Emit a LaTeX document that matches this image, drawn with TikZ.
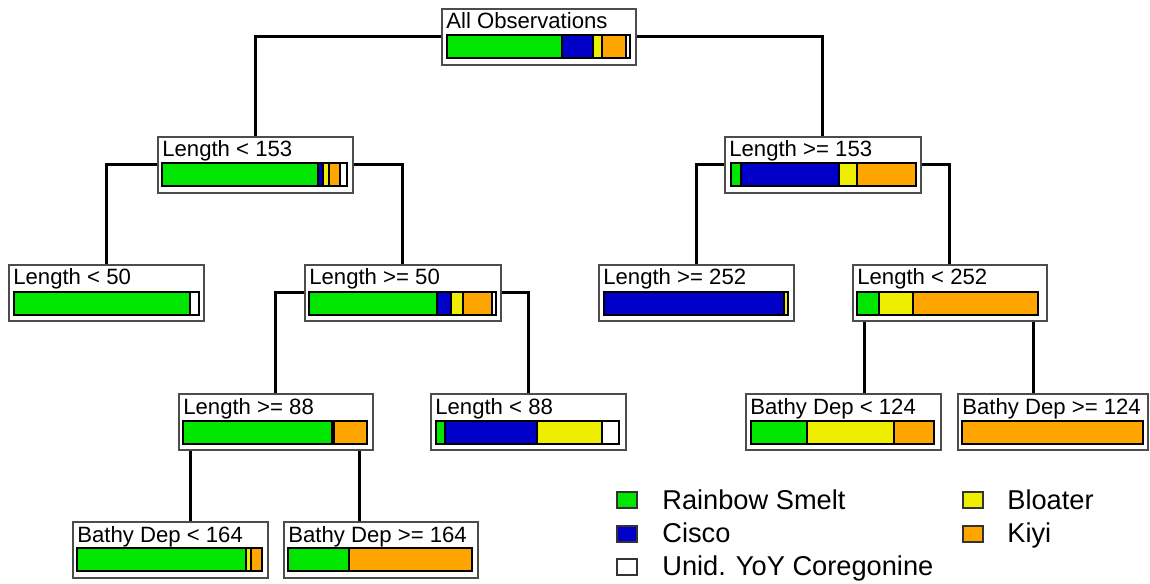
\documentclass[tikz,border=0pt]{standalone}
\usepackage{fontspec}
\setmainfont{Liberation Sans}
\usetikzlibrary{calc}
\pgfdeclarelayer{background}
\pgfsetlayers{background,main}
\definecolor{cgreen}{RGB}{0,230,0}
\definecolor{cblue}{RGB}{0,0,200}
\definecolor{cyellow}{RGB}{238,238,0}
\definecolor{corange}{RGB}{255,165,0}
\tikzset{
  tbox/.style={draw=black!70, fill=white, line width=0.9pt, inner sep=0pt,
    anchor=north west, minimum height=1.12cm},
  tlabel/.style={anchor=base west, inner sep=0pt, font=\fontsize{12.6}{15}\selectfont},
  segment/.style={draw=black, line width=0.7pt},
  conn/.style={draw=black, line width=1.6pt},
  legsq/.style={draw=black!80, line width=0.7pt, minimum width=0.4cm, minimum height=0.32cm, inner sep=0pt},
  legtext/.style={anchor=base west, inner sep=0pt, font=\fontsize{15.5}{18}\selectfont}
}
\newcommand\treebox[5]{%
  \node[tbox, minimum width=#4*0.02cm] (#1) at (#2,#3) {};
  \node[tlabel] (#1-label) at (#2+5,#3+21) {#5};}
\newcommand\seg[4]{\filldraw[segment, fill=#4] (#1,#3) rectangle (#2,#3+23);}
\begin{document}
\begin{tikzpicture}[x=0.02cm, y=-0.02cm]
\useasboundingbox (0,0) rectangle (1150,584);
% boxes
\treebox{root}{441}{8}{194}{All Observations}
\treebox{L1}{157}{136}{195}{Length < 153}
\treebox{R1}{724}{136}{196}{Length >= 153}
\treebox{lt50}{8}{264}{195}{Length < 50}
\treebox{ge50}{304}{264}{196}{Length >= 50}
\treebox{ge252}{598}{264}{195}{Length >= 252}
\treebox{lt252}{852}{264}{194}{Length < 252}
\treebox{ge88}{178}{393}{194}{Length >= 88}
\treebox{lt88}{430}{393}{195}{Length < 88}
\treebox{bdA}{745}{393}{195}{Bathy Dep < 124}
\treebox{bdB}{957}{393}{190}{Bathy Dep >= 124}
\treebox{bdC}{72}{521}{195}{Bathy Dep < 164}
\treebox{bdD}{283}{521}{194}{Bathy Dep >= 164}
% bars
\seg{447}{562}{35}{cgreen}\seg{562}{593}{35}{cblue}\seg{593}{602}{35}{cyellow}\seg{602}{626}{35}{corange}\seg{626}{630}{35}{white}
\seg{162}{318}{163}{cgreen}\seg{318}{323}{163}{cblue}\seg{323}{329}{163}{cyellow}\seg{329}{340}{163}{corange}\seg{340}{347}{163}{white}
\seg{731}{741}{163}{cgreen}\seg{741}{839}{163}{cblue}\seg{839}{857}{163}{cyellow}\seg{857}{916}{163}{corange}
\seg{14}{190}{292}{cgreen}\seg{190}{199}{292}{white}
\seg{309}{437}{292}{cgreen}\seg{437}{451}{292}{cblue}\seg{451}{463}{292}{cyellow}\seg{463}{492}{292}{corange}\seg{492}{496}{292}{white}
\seg{604}{784}{292}{cblue}\seg{784}{788}{292}{cyellow}
\seg{857}{879}{292}{cgreen}\seg{879}{913}{292}{cyellow}\seg{913}{1038}{292}{corange}
\seg{183}{332}{421}{cgreen}\seg{332}{334}{421}{cyellow}\seg{334}{367}{421}{corange}
\seg{436}{445}{421}{cgreen}\seg{445}{537}{421}{cblue}\seg{537}{602}{421}{cyellow}\seg{602}{619}{421}{white}
\seg{751}{807}{421}{cgreen}\seg{807}{894}{421}{cyellow}\seg{894}{934}{421}{corange}
\seg{962}{1143}{421}{corange}
\seg{77}{246}{548}{cgreen}\seg{246}{251}{548}{cyellow}\seg{251}{262}{548}{corange}
\seg{288}{349}{548}{cgreen}\seg{349}{472}{548}{corange}
% connector ends
\coordinate (bdC-in) at (190.5,521);
\coordinate (bdD-in) at (359.5,521);
\coordinate (bdA-in) at (864.5,393);
\coordinate (bdB-in) at (1033.5,393);
\begin{pgfonlayer}{background}
\fill[white] (0,0) rectangle (1150,584);
\draw[conn] (root) -| (L1.north);
\draw[conn] (root) -| (R1.north);
\draw[conn] (L1) -| (lt50.north);
\draw[conn] (L1) -| (ge50.north);
\draw[conn] (R1) -| (ge252.north);
\draw[conn] (R1) -| (lt252.north);
\draw[conn] (ge50) -| (ge88.north);
\draw[conn] (ge50) -| (lt88.north);
\draw[conn] (lt252.center) -| (bdA-in);
\draw[conn] (lt252.center) -| (bdB-in);
\draw[conn] (ge88.center) -| (bdC-in);
\draw[conn] (ge88.center) -| (bdD-in);
\end{pgfonlayer}
% legend
\node[legsq, fill=cgreen] (k1) at (627,500) {};
\node[legtext] (k1-t) at (662,509) {Rainbow Smelt};
\node[legsq, fill=cblue] (k2) at (627,534) {};
\node[legtext] (k2-t) at (662,542) {Cisco};
\node[legsq, fill=white] (k3) at (627,567) {};
\node[legtext] (k3-t) at (662,575) {Unid. YoY Coregonine};
\node[legsq, fill=cyellow] (k4) at (973,500) {};
\node[legtext] (k4-t) at (1007,509) {Bloater};
\node[legsq, fill=corange] (k5) at (973,534) {};
\node[legtext] (k5-t) at (1007,542) {Kiyi};
\end{tikzpicture}
\end{document}
